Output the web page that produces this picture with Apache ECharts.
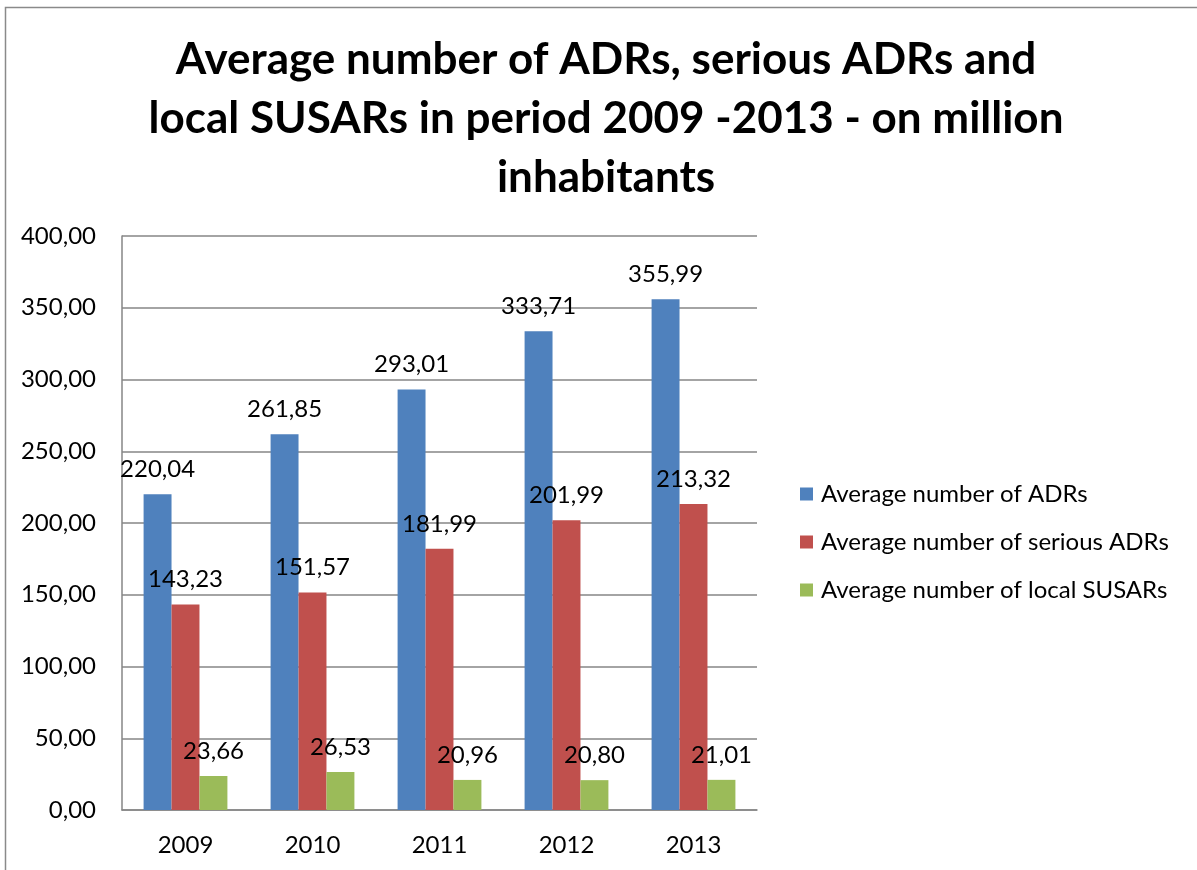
<!DOCTYPE html>
<html>
<head>
<meta charset="utf-8">
<script src="https://cdn.jsdelivr.net/npm/echarts@6/dist/echarts.min.js"></script>
<style>
  html, body { margin: 0; padding: 0; background: #fff; }
  #chart { width: 1197px; height: 870px; }
</style>
</head>
<body>
<div id="chart"></div>
<script>
// Years on the category axis
const years = ['2009', '2010', '2011', '2012', '2013'];

// Per-million-inhabitant averages
const adrs = [220.04, 261.85, 293.01, 333.71, 355.99];
const seriousAdrs = [143.23, 151.57, 181.99, 201.99, 213.32];
const localSusars = [23.66, 26.53, 20.96, 20.80, 21.01];

const seriesNames = [
  'Average number of ADRs',
  'Average number of serious ADRs',
  'Average number of local SUSARs'
];
const seriesColors = ['#4F81BD', '#C0504D', '#9BBB59'];

const titleText = 'Average number of ADRs, serious ADRs and\nlocal SUSARs in period 2009 -2013 - on million\ninhabitants';

const FONT = 'Lato, "Open Sans", sans-serif';

// Comma as decimal separator, two decimals
const fmt = v => v.toFixed(2).replace('.', ',');

const chart = echarts.init(document.getElementById('chart'));

function barSeries(name, data, color) {
  return {
    name: name,
    type: 'bar',
    data: data,
    barGap: '0%',
    barCategoryGap: '34%',
    itemStyle: { color: color },
    label: {
      show: true,
      position: 'top',
      distance: 13,
      color: '#000',
      fontFamily: FONT,
      fontSize: 24,
      formatter: p => fmt(p.value)
    }
  };
}

chart.setOption({
  backgroundColor: '#fff',
  animation: false,
  title: {
    text: titleText,
    left: 601,
    top: 25,
    textAlign: 'center',
    textStyle: {
      fontFamily: FONT,
      fontWeight: 'bold',
      fontSize: 44,
      lineHeight: 59,
      color: '#000'
    }
  },
  graphic: [{
    type: 'rect',
    shape: { x: 5.5, y: 7.5, width: 1400, height: 1000 },
    style: { fill: 'none', stroke: '#8a8a8a', lineWidth: 1.5 },
    silent: true
  }],
  legend: {
    orient: 'vertical',
    left: 795,
    top: 476,
    itemWidth: 13,
    itemHeight: 13,
    itemGap: 22,
    icon: 'rect',
    textStyle: {
      fontFamily: FONT,
      fontSize: 24,
      lineHeight: 26,
      color: '#000',
      padding: [0, 0, 0, 3]
    }
  },
  grid: { left: 122, top: 236, width: 635, height: 574, containLabel: false },
  xAxis: {
    type: 'category',
    data: years,
    axisLine: { lineStyle: { color: '#868686', width: 1.5 } },
    axisTick: { show: false },
    axisLabel: {
      color: '#000',
      fontFamily: FONT,
      fontSize: 24,
      margin: 23
    }
  },
  yAxis: {
    type: 'value',
    min: 0,
    max: 400,
    interval: 50,
    axisLine: { show: true, lineStyle: { color: '#868686', width: 1.5 } },
    axisTick: { show: false },
    splitLine: { lineStyle: { color: '#868686', width: 1.5 } },
    axisLabel: {
      color: '#000',
      fontFamily: FONT,
      fontSize: 24,
      margin: 26,
      formatter: v => fmt(v)
    }
  },
  series: [
    barSeries(seriesNames[0], adrs, seriesColors[0]),
    barSeries(seriesNames[1], seriousAdrs, seriesColors[1]),
    barSeries(seriesNames[2], localSusars, seriesColors[2])
  ]
});
</script>
</body>
</html>
